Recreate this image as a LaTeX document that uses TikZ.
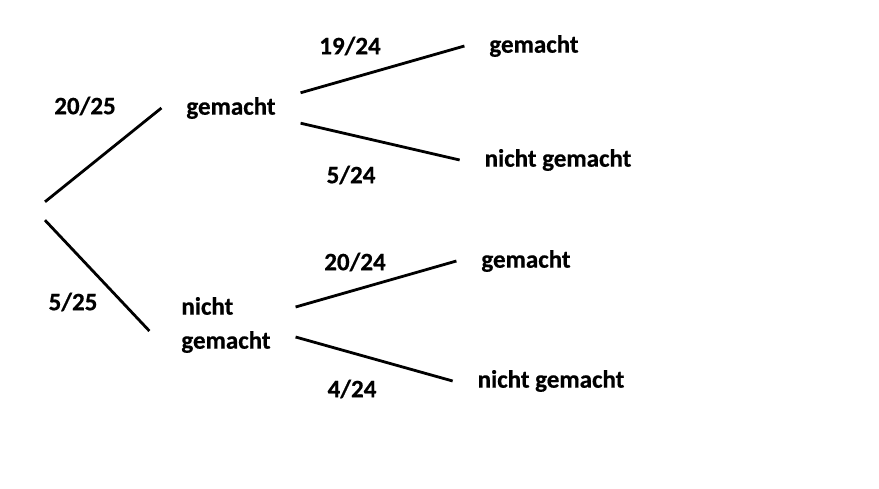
\documentclass[tikz,border=0pt]{standalone}
\usepackage{fontspec}
\setmainfont{Carlito}[BoldFeatures={FakeBold=0.6}]
\usepackage{tikz}
\usetikzlibrary{positioning,calc}

\begin{document}
\begin{tikzpicture}[x=1pt,y=-1pt,
  outcome/.style={inner xsep=0pt,inner ysep=0pt,outer xsep=25pt,minimum height=30pt,font=\fontsize{25}{34}\selectfont\bfseries,align=left},
  prob/.style={inner sep=0pt,font=\fontsize{25}{28}\selectfont\bfseries},
  branch/.style={line width=2.8pt,black}]
  \useasboundingbox (0,0) rectangle (879,488);
  % Root
  \node[inner sep=0pt,minimum height=18pt,minimum width=0pt] (root) at (45,211) {};
  % First level
  \node[outcome] (g1) at (231,108) {gemacht};
  \node[outcome] (ng1) at (226,325) {nicht\\gemacht};
  \node[prob] (p2025) at (85,106) {20/25};
  \node[prob] (p525) at (73,302) {5/25};
  \draw[branch] (root.north) -- (g1.west);
  \draw[branch] (root.south) -- ([shift={(-7,6)}]ng1.west);
  % Second level after gemacht
  \node[outcome] (gg) at (534,46) {gemacht};
  \node[outcome] (gn) at (558,160) {nicht gemacht};
  \node[prob] (p1924) at (350,46) {19/24};
  \node[prob] (p524) at (351,175) {5/24};
  \draw[branch] (g1.north east) -- (gg.west);
  \draw[branch] (g1.south east) -- (gn.west);
  % Second level after nicht gemacht
  \node[outcome] (ng) at (526,261) {gemacht};
  \node[outcome] (nn) at (551,381) {nicht gemacht};
  \node[prob] (p2024) at (355,262) {20/24};
  \node[prob] (p424) at (352,389) {4/24};
  \draw[branch] ([yshift=18pt]ng1.east) -- (ng.west);
  \draw[branch] ([yshift=-12pt]ng1.east) -- (nn.west);
\end{tikzpicture}
\end{document}
